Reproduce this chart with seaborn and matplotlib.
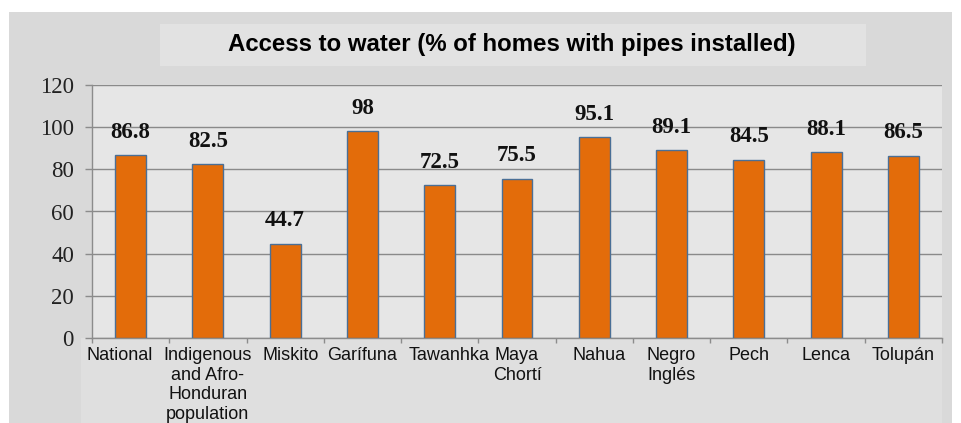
import matplotlib.pyplot as plt
import matplotlib.patches as mpatches
import matplotlib.transforms as mtransforms
import numpy as np
import pandas as pd
import seaborn as sns

# values
groups = ["National", "Indigenous\nand Afro-\nHonduran\npopulation", "Miskito", "Garífuna",
          "Tawanhka", "Maya\nChortí", "Nahua", "Negro\nInglés", "Pech", "Lenca", "Tolupán"]
access = [86.8, 82.5, 44.7, 98, 72.5, 75.5, 95.1, 89.1, 84.5, 88.1, 86.5]
value_text = ["86.8", "82.5", "44.7", "98", "72.5", "75.5", "95.1", "89.1", "84.5", "88.1", "86.5"]
yticks = [0, 20, 40, 60, 80, 100, 120]

df = pd.DataFrame({"group": groups, "access": access})

W, H = 961, 423
fig = plt.figure(figsize=(W / 100, H / 100), dpi=100, facecolor="white")

# grey card behind everything, title box, label band
fig.patches.append(mpatches.Rectangle((9 / W, 0), 943 / W, 411 / H, transform=fig.transFigure,
                                      facecolor="#d9d9d9", edgecolor="none", zorder=-3))
fig.patches.append(mpatches.Rectangle((160 / W, (H - 66) / H), 706 / W, 42 / H, transform=fig.transFigure,
                                      facecolor="#e2e2e2", edgecolor="none", zorder=-2))
fig.patches.append(mpatches.Rectangle((81 / W, 0), 861 / W, (H - 338) / H, transform=fig.transFigure,
                                      facecolor="#dfdfdf", edgecolor="none", zorder=-2))

ax = fig.add_axes([92 / W, (H - 338) / H, 850 / W, 253 / H])
ax.set_facecolor("#e6e6e6")

sns.barplot(data=df, x="group", y="access", color="#e36c0a", edgecolor="#4a6f96",
            linewidth=1, width=0.4, saturation=1, ax=ax, zorder=3)

for i, (v, t) in enumerate(zip(access, value_text)):
    ax.annotate(t, (i, v), xytext=(0, 12.5), textcoords="offset points", ha="center", va="baseline",
                fontsize=16.5, fontweight="bold", family="Liberation Serif", color="#111111")

ax.set_xlim(-0.5, len(groups) - 0.5)
ax.set_ylim(0, 120)
ax.set_yticks(yticks)
ax.set_yticklabels([str(t) for t in yticks], family="Liberation Serif", fontsize=16.5, color="#222222")
ax.set_xticks(range(len(groups)))
ax.set_xticklabels(groups, family="Liberation Sans", fontsize=13, color="#111111", linespacing=1.2)
ax.tick_params(axis="x", length=0, pad=6.5)
ax.set_xticks(np.arange(-0.5, len(groups), 1), minor=True)
ax.tick_params(axis="x", which="minor", length=3.5, color="#8c8c8c", width=1)
ax.tick_params(axis="y", length=5, color="#8c8c8c", width=1, pad=8)
ax.set_xlabel("")
ax.set_ylabel("")

# nudge a few crowded labels sideways like the original layout
nudge_px = {0: -11, 2: 6, 4: 9, 6: 5}
for i, lab in enumerate(ax.get_xticklabels()):
    if i in nudge_px:
        lab.set_transform(lab.get_transform() + mtransforms.ScaledTranslation(nudge_px[i] / 100, 0, fig.dpi_scale_trans))

ax.grid(axis="y", color="#8a8a8a", linewidth=1, zorder=1)
ax.set_axisbelow(True)
for side in ["top", "right"]:
    ax.spines[side].set_visible(False)
for side in ["left", "bottom"]:
    ax.spines[side].set_color("#8c8c8c")
    ax.spines[side].set_linewidth(1)

fig.text(512 / W, (H - 45) / H, "Access to water (% of homes with pipes installed)",
         ha="center", va="center", fontsize=17.3, fontweight="bold", family="Liberation Sans")

fig.savefig("out.png", dpi=100, facecolor="white")
